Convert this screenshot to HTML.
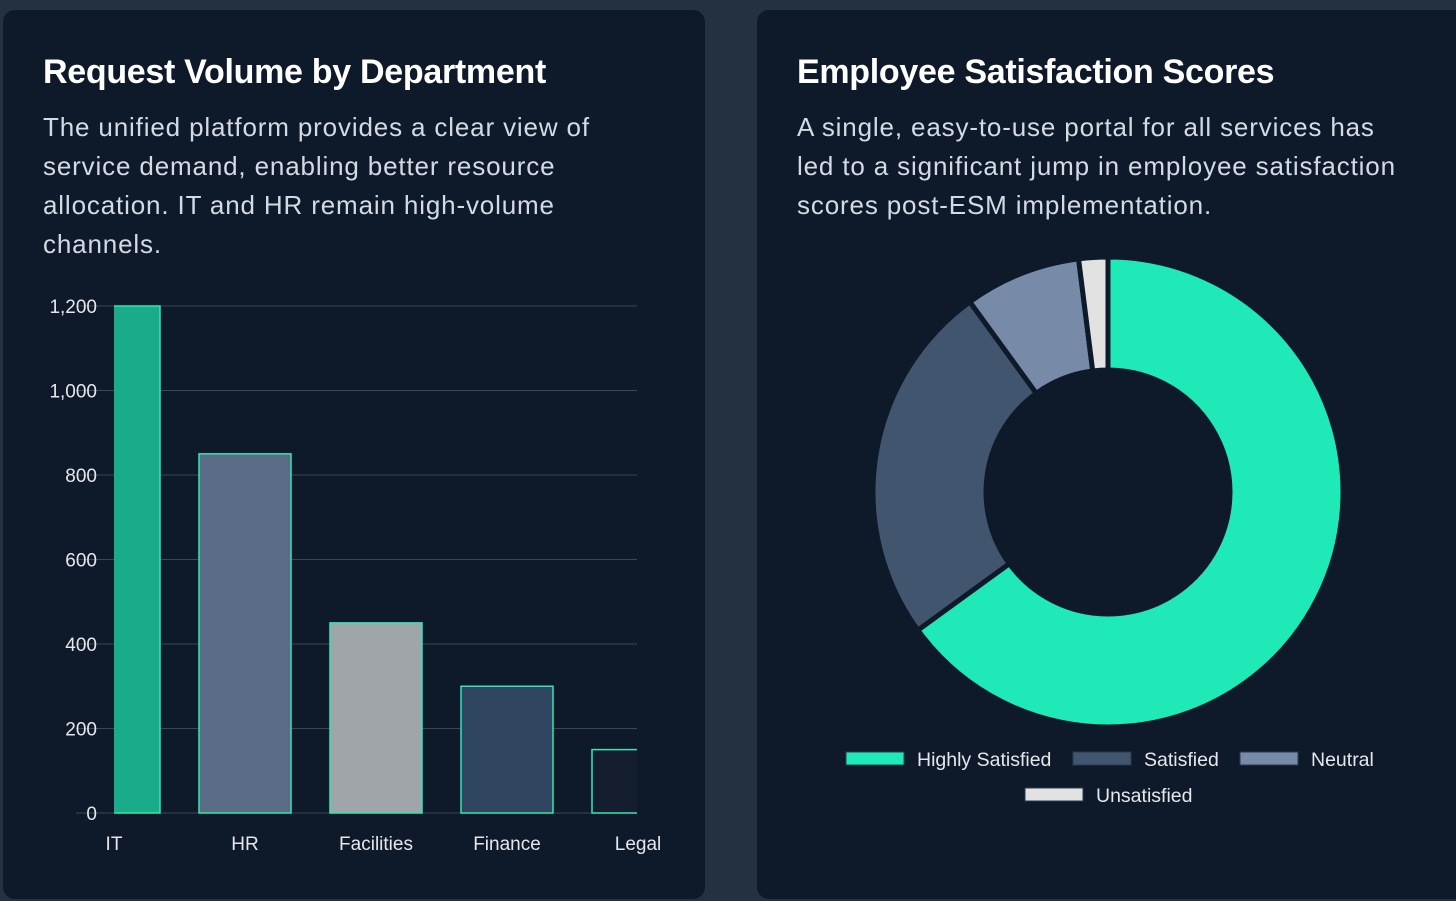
<!DOCTYPE html>
<html><head><meta charset="utf-8"><style>
html,body{margin:0;padding:0;width:1456px;height:901px;background:#243140;overflow:hidden;font-family:"Liberation Sans",sans-serif}
.card{position:absolute;top:10px;height:889px;background:#0e1a2a;border-radius:12px}
h2{position:absolute;left:40px;top:43px;margin:0;color:#fff;font-size:34px;font-weight:bold;letter-spacing:-0.3px;white-space:nowrap}
p{position:absolute;left:40px;top:98px;margin:0;color:#d3dae4;font-size:26px;line-height:39px;white-space:nowrap;letter-spacing:0.85px}
svg{position:absolute;left:0;top:0}
</style></head><body>
<div class="card" style="left:3px;width:702px">
<h2>Request Volume by Department</h2>
<p>The unified platform provides a clear view of<br>service demand, enabling better resource<br>allocation. IT and HR remain high-volume<br>channels.</p>
</div>
<div class="card" style="left:757px;width:710px">
<h2>Employee Satisfaction Scores</h2>
<p>A single, easy-to-use portal for all services has<br>led to a significant jump in employee satisfaction<br>scores post-ESM implementation.</p>
</div>
<svg id="bar" width="1456" height="901"></svg>
<svg id="donut" width="1456" height="901"></svg>
<script>
const categories=["IT","HR","Facilities","Finance","Legal"];
const requestValues=[1200,850,450,300,150];
const barColors=["#1aab8a","#5a6b85","#9fa5a8","#2f4560","#141e2e"];
const yTicks=[0,200,400,600,800,1000,1200];
const yTickLabels=["0","200","400","600","800","1,000","1,200"];
const sliceLabels=["Highly Satisfied","Satisfied","Neutral","Unsatisfied"];
const sliceValues=[65,25,8,2];
const sliceColors=["#1fe9b7","#42556f","#778ba8","#e2e2e2"];

const NS="http://www.w3.org/2000/svg";
function mk(parent,tag,attrs){const e=document.createElementNS(NS,tag);for(const k in attrs)e.setAttribute(k,attrs[k]);parent.appendChild(e);return e;}
const bar=document.getElementById('bar');
const y0=813,y1=306,yMax=1200,xFirst=114,step=131,bw=92;
const yS=v=>y0-(v/yMax)*(y0-y1);
const xS=i=>xFirst+i*step;
const defs=mk(bar,'defs',{});
const cp=mk(defs,'clipPath',{id:'plotclip'});
mk(cp,'rect',{x:114,y:0,width:523,height:901});
yTicks.forEach((t,i)=>{
  const l=mk(bar,'line',{x1:76,x2:637,y1:yS(t),y2:yS(t),stroke:'#3a4756','stroke-width':1});
  
  
  const tx=mk(bar,'text',{x:97,y:yS(t)+7,'text-anchor':'end',fill:'#e5e7eb','font-size':19,'font-family':'Liberation Sans, sans-serif'});
  tx.textContent=yTickLabels[i];
  
  
});
const g=mk(bar,'g',{'clip-path':'url(#plotclip)'});
categories.forEach((c,i)=>{
  const r=mk(g,'rect',{x:xS(i)-bw/2,y:yS(requestValues[i]),width:bw,height:y0-yS(requestValues[i]),fill:barColors[i],stroke:'#2ee8b5','stroke-width':1.5});
  
  
  const tx=mk(bar,'text',{x:xS(i),y:850,'text-anchor':'middle',fill:'#e5e7eb','font-size':19,'font-family':'Liberation Sans, sans-serif'});
  tx.textContent=c;
  
  
});

const dn=document.getElementById('donut');
const cx=1108,cy=492,R=235,r0=122;
const total=sliceValues.reduce((a,b)=>a+b,0);
let acc=0;
function pt(a,rad){return [cx+rad*Math.sin(a),cy-rad*Math.cos(a)];}
sliceValues.forEach((v,i)=>{
  const a0=acc/total*2*Math.PI;acc+=v;const a1=acc/total*2*Math.PI;
  const lg=(a1-a0)>Math.PI?1:0;
  const p0=pt(a0,R),p1=pt(a1,R),p2=pt(a1,r0),p3=pt(a0,r0);
  const d=`M${p0}A${R},${R} 0 ${lg} 1 ${p1}L${p2}A${r0},${r0} 0 ${lg} 0 ${p3}Z`;
  const s=mk(dn,'path',{d:d,fill:sliceColors[i],stroke:'#0e1a2a','stroke-width':5,'stroke-linejoin':'miter'});
  
  
});
const legendPos=[[846,759],[1073,759],[1240,759],[1025,795]];
sliceLabels.forEach((l,i)=>{
  const [x,y]=legendPos[i];
  const gEl=mk(dn,'g',{});
  
  
  mk(gEl,'rect',{x:x,y:y-7,width:58,height:13,fill:sliceColors[i],stroke:'#2a3a50','stroke-width':1});
  const t=mk(gEl,'text',{x:x+71,y:y+7,fill:'#e5e7eb','font-size':19.5,'font-family':'Liberation Sans, sans-serif'});
  t.textContent=l;
});
</script>
</body></html>
